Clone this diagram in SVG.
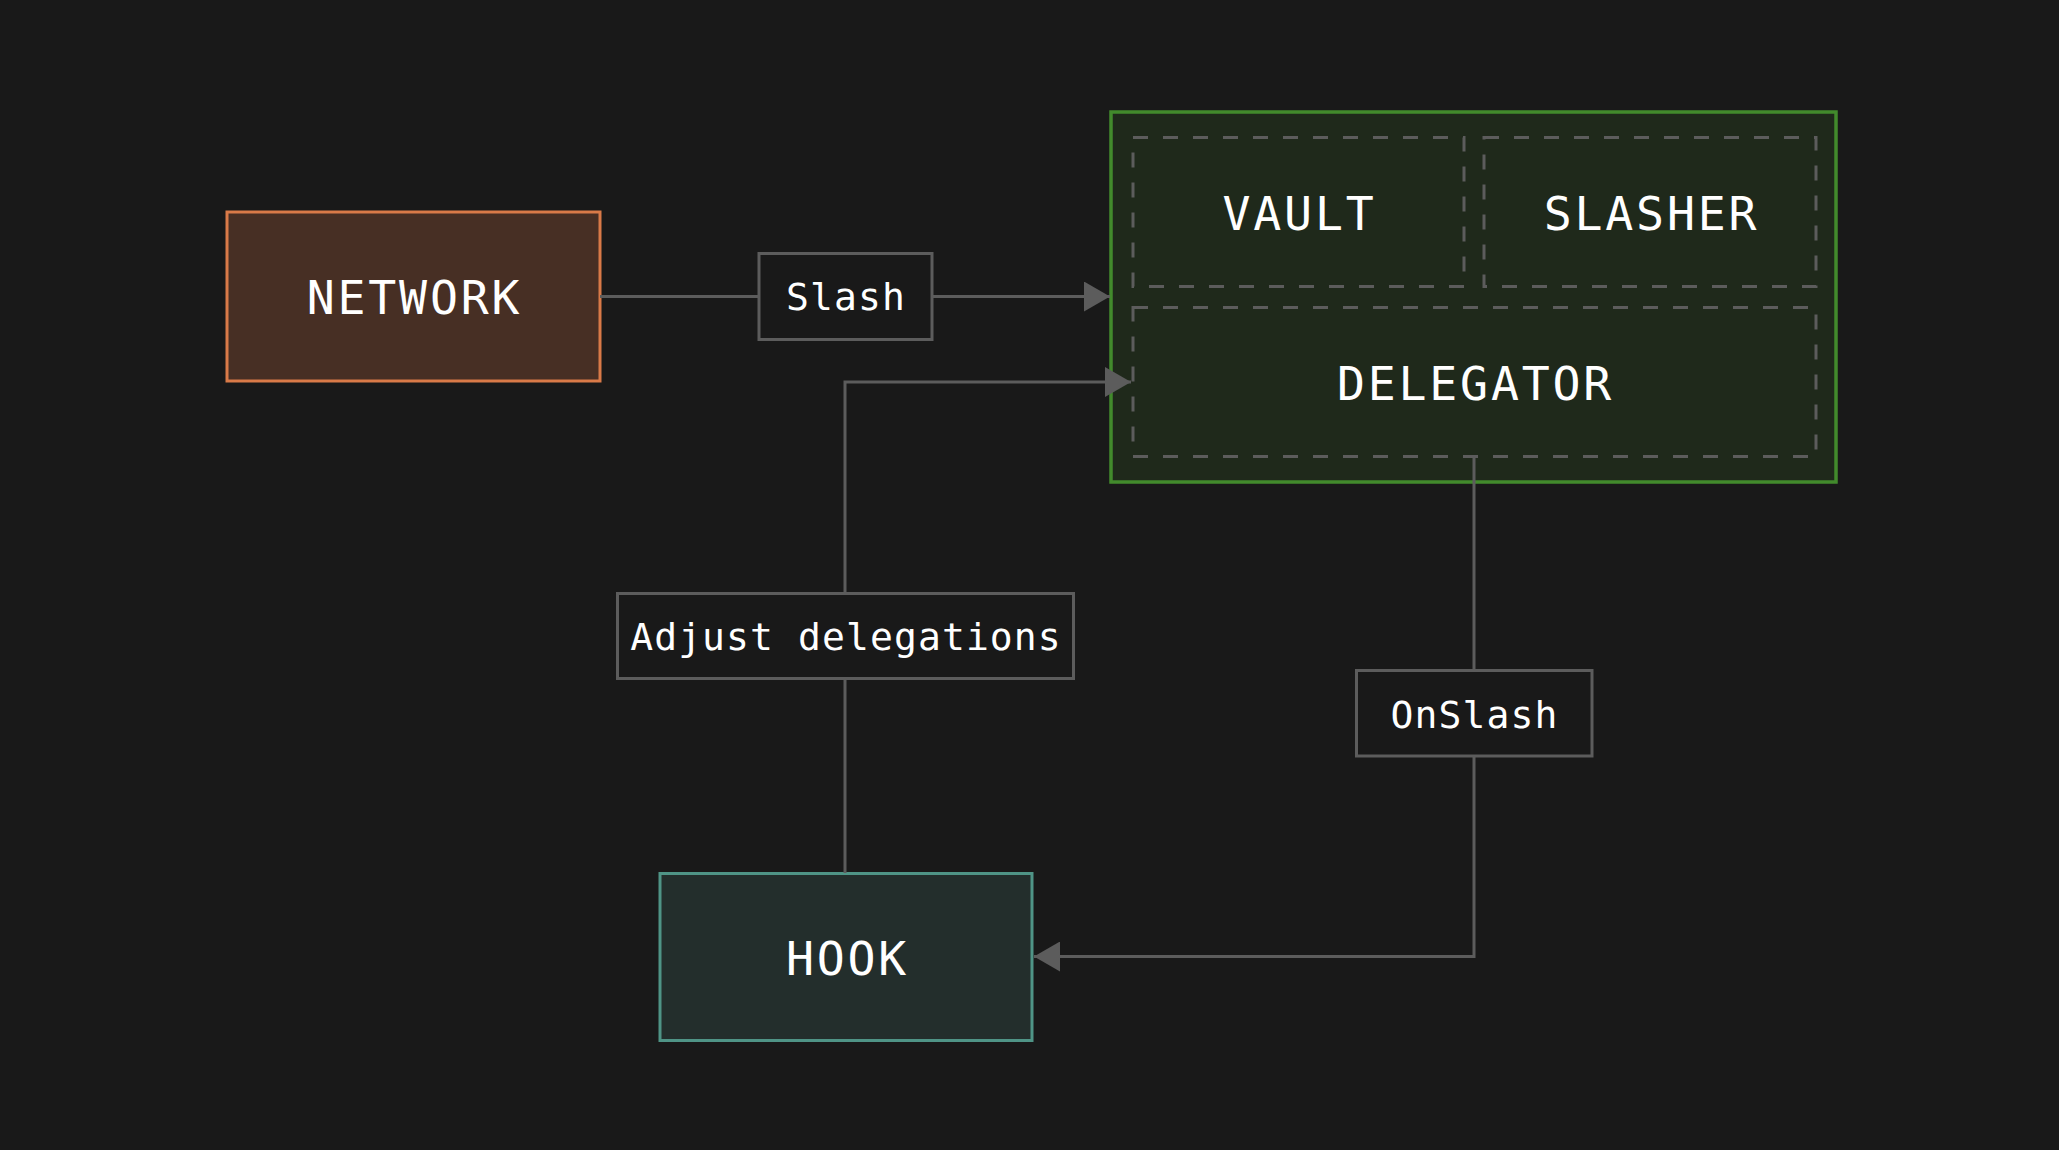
<svg xmlns="http://www.w3.org/2000/svg" width="2059" height="1150" viewBox="0 0 2059 1150">
  <defs>
    <marker id="arrow" markerUnits="userSpaceOnUse" markerWidth="26" markerHeight="30" refX="26" refY="15" orient="auto">
      <path d="M0,0 L26,15 L0,30 Z" fill="#5c5c5c"/>
    </marker>
    <style>
      .title { font-family: "DejaVu Sans Mono", "Liberation Mono", monospace; font-size: 46.5px; letter-spacing: 2.8px; fill: #ffffff; text-anchor: middle; }
      .label { font-family: "DejaVu Sans Mono", "Liberation Mono", monospace; font-size: 38px; letter-spacing: 1.1px; fill: #ffffff; text-anchor: middle; }
      .lbox { fill: #191919; stroke: #5c5c5c; stroke-width: 3; }
      .dash { fill: none; stroke: #5c5c5c; stroke-width: 3; stroke-dasharray: 15 15; }
      .conn { fill: none; stroke: #5c5c5c; stroke-width: 3; }
    </style>
  </defs>
  <rect x="0" y="0" width="2059" height="1150" fill="#191919"/>

  <g id="network">
    <rect x="227" y="212" width="373" height="169" fill="#472f24" stroke="#d97a48" stroke-width="3"/>
    <text class="title" x="414.5" y="314">NETWORK</text>
  </g>

  <g id="group-vault-system">
    <rect x="1111" y="112" width="725" height="370" fill="#1f291b" stroke="#428a2c" stroke-width="3.5"/>
  </g>

  <g id="vault">
    <rect class="dash" x="1133" y="137.5" width="331" height="149"/>
    <text class="title" x="1299.5" y="230">VAULT</text>
  </g>

  <g id="slasher">
    <rect class="dash" x="1484" y="137.5" width="332" height="149"/>
    <text class="title" x="1651.5" y="230">SLASHER</text>
  </g>

  <g id="delegator">
    <rect class="dash" x="1133" y="307.5" width="683" height="149"/>
    <text class="title" x="1475.5" y="400">DELEGATOR</text>
  </g>

  <g id="hook">
    <rect x="660" y="873.5" width="372" height="167" fill="#232e2c" stroke="#4f9486" stroke-width="3"/>
    <text class="title" x="847.5" y="975">HOOK</text>
  </g>

  <g id="connectors">
    <path class="conn" d="M600,296.5 L759,296.5"/>
    <path class="conn" d="M932,296.5 L1110,296.5" marker-end="url(#arrow)"/>
    <path class="conn" d="M845,873 L845,679"/>
    <path class="conn" d="M845,592 L845,382 L1131,382" marker-end="url(#arrow)"/>
    <path class="conn" d="M1474,458 L1474,669"/>
    <path class="conn" d="M1474,757 L1474,956.5 L1034,956.5" marker-end="url(#arrow)"/>
  </g>

  <g id="label-slash">
    <rect class="lbox" x="759" y="253.5" width="173" height="86"/>
    <text class="label" x="846" y="310">Slash</text>
  </g>

  <g id="label-adjust">
    <rect class="lbox" x="617.5" y="593.5" width="456" height="85"/>
    <text class="label" x="846" y="650">Adjust delegations</text>
  </g>

  <g id="label-onslash">
    <rect class="lbox" x="1356.5" y="670.5" width="235.5" height="85.5"/>
    <text class="label" x="1474.5" y="728">OnSlash</text>
  </g>
</svg>
